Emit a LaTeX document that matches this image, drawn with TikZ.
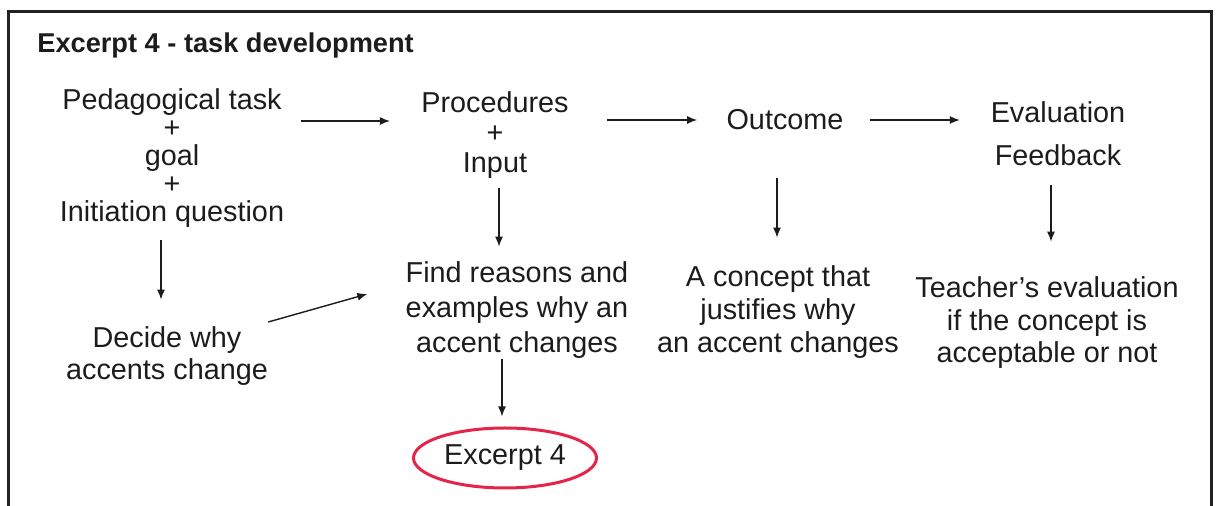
\documentclass[tikz,border=0pt]{standalone}
\usepackage{fontspec}
\setmainfont{Liberation Sans}
\usetikzlibrary{arrows.meta,shapes.geometric}
\definecolor{ink}{HTML}{1C1C1C}
\definecolor{frameline}{HTML}{222222}
\definecolor{mark}{HTML}{E5244A}

\begin{document}
\begin{tikzpicture}[x=0.5pt,y=-0.5pt,
    lbl/.style={align=center,inner sep=0pt,text=ink},
    arr/.style={-{Latex[length=5pt,width=4pt]},line width=0.7pt,draw=ink}]
    \useasboundingbox (0,0) rectangle (1216,506);
    \draw[frameline,line width=1.5pt] (8,506) -- (8,12) -- (1211,12) -- (1211,506);

    \path
    (37,45) node[anchor=west,inner sep=0pt,text=ink,font=\bfseries\fontsize{13.6}{16}\selectfont] (title) {Excerpt 4 - task development}
    ;

    \path
    (172,158.5) node[lbl,font=\fontsize{14.4}{14}\selectfont] (ped) {Pedagogical task\\+\\goal\\+\\Initiation question}
    (495,135.5) node[lbl,font=\fontsize{14.4}{15}\selectfont] (proc) {Procedures\\+\\Input}
    (785,120) node[lbl,font=\fontsize{14.4}{16}\selectfont] (out) {Outcome}
    (1058,134) node[lbl,font=\fontsize{14.4}{21.5}\selectfont] (eval) {Evaluation\\Feedback}
    ;

    \path
    (167,356.5) node[lbl,font=\fontsize{14.4}{16}\selectfont] (dec) {Decide why\\accents change}
    (517,310.5) node[lbl,font=\fontsize{14.4}{17.5}\selectfont] (find) {Find reasons and\\examples why an\\accent changes}
    (778,312.5) node[lbl,font=\fontsize{14.4}{16.5}\selectfont] (cpt) {A concept that\\justifies why\\an accent changes}
    (1047,323) node[lbl,font=\fontsize{14.4}{16.25}\selectfont] (teach) {Teacher's evaluation\\if the concept is\\acceptable or not}
    ;

    \node[draw=mark,line width=1.5pt,ellipse,minimum width=91.5pt,minimum height=30pt,inner sep=0pt,text=ink,font=\fontsize{14.4}{16}\selectfont] (exc) at (505,458) {Excerpt 4};

    % across the top
    \draw[arr,shorten <=8.25pt,shorten >=15.5pt] ([yshift=18.75pt]ped.east) -- ([yshift=18.75pt]ped.east -| proc.west);
    \draw[arr,shorten <=19pt,shorten >=14.5pt] (proc.east |- out.west) -- (out.west);
    \draw[arr,shorten <=13pt,shorten >=15.25pt] (out.east) -- (out.east -| eval.west);

    % downwards
    \draw[arr,shorten <=6pt,shorten >=13.5pt] ([xshift=-5.5pt]ped.south) -- ([xshift=-5.5pt]ped.south |- dec.north);
    \draw[arr,shorten <=4.5pt,shorten >=7.5pt] ([xshift=2pt]proc.south) -- ([xshift=2pt]proc.south |- find.north);
    \draw[arr,shorten <=23.5pt,shorten >=14pt] ([xshift=-4pt]out.south) -- ([xshift=-4pt]out.south |- cpt.north);
    \draw[arr,shorten <=9.5pt,shorten >=17.5pt] ([xshift=-3.5pt]eval.south) -- ([xshift=-3.5pt]eval.south |- teach.north);
    \draw[arr,shorten >=5pt] ([xshift=-7.5pt]find.south) -- ([xshift=-7.5pt]find.south |- exc.north);
    \draw[arr] ([yshift=17.25pt]dec.east) -- ([xshift=-19pt,yshift=8.25pt]find.west);
\end{tikzpicture}
\end{document}
